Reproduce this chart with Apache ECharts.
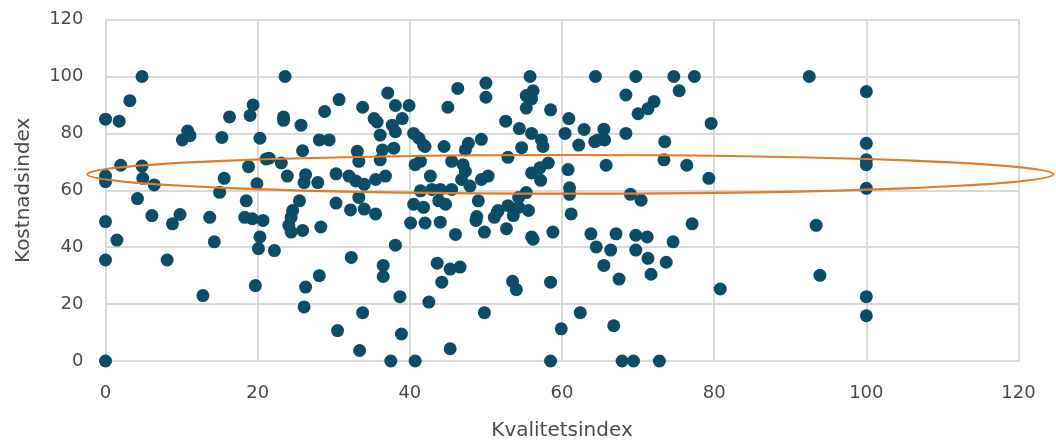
<!DOCTYPE html>
<html>
<head>
<meta charset="utf-8">
<script src="https://cdn.jsdelivr.net/npm/echarts@6/dist/echarts.min.js"></script>
<style>
html,body{margin:0;padding:0;background:#fff;}
#chart{width:1056px;height:446px;}
</style>
</head>
<body>
<div id="chart"></div>
<script>
// Axis ticks
const xTicks = [0, 20, 40, 60, 80, 100, 120];
const yTicks = [0, 20, 40, 60, 80, 100, 120];

// Kvalitetsindex (x) values
const kvalitet = [
  0, 0, 0, 0, 0, 0,
  4.8, 3.2, 1.8, 10.8, 11.1, 10.1, 16.3, 15.3, 19.4, 19, 20.3, 2, 4.8, 4.9, 6.4, 4.2, 15, 15.6, 18.8, 21.1, 19.9, 18.5, 6.1, 9.8, 8.8, 13.7, 18.3, 19.3, 20.7, 1.5, 14.3, 20.3, 20.1, 8.1, 19.7, 12.8,
  23.6, 30.7, 37.1, 23.4, 23.4, 25.7, 28.8, 33.8, 35.3, 35.7, 38.1, 39.9, 39, 37.7, 38.1, 36.1, 28.1, 29.4, 40.5, 41.2, 41.8, 25.9, 33.1, 36.4, 37.9, 21.5, 23.1, 33.3, 36.1, 40.7, 23.9, 26.3, 26.1, 27.9, 30.3, 32, 32.9, 34, 35.5, 36.8, 41.4, 25.5, 30.3, 33.3, 32.2, 34, 35.5, 40.5, 41.8, 24.6,
  24.4, 24.1, 24.4, 25.9, 28.3, 22.2, 40.1, 42, 38.1, 32.3, 36.5, 36.5, 28.1, 26.3, 26.1, 33.8, 38.7, 42.5, 30.5, 38.9, 33.4, 37.5, 40.7,
  55.8, 46.3, 50, 50, 56.2, 55.3, 56, 55.3, 45, 58.5, 60.9, 52.6, 54.4, 56, 57.3, 60.4, 62.9, 64.3, 62.2, 57.5, 54.7, 42, 44.5, 47.7, 49.4, 47.3, 52.9, 41.4, 45.5, 47, 47.3, 42.7, 58.2, 57.1, 56, 57.2, 60.8, 46.8, 47.9, 50.3, 49.4, 42.9, 44, 45.5, 43.8, 44.7, 49, 61, 61, 55.3, 54.3, 51.6, 52.9, 54.3, 55.6, 61.2, 48.8,
  44, 46, 48.7, 49.8, 51.5, 51.1, 53.6, 52.7, 56, 56.2, 58.8, 63.8, 64.5, 43.6, 45.3, 46.6, 44.2, 53.5, 54, 58.5, 49.8, 62.4, 59.9, 45.3, 58.5,
  64.4, 69.7, 74.7, 77.4, 75.4, 68.4, 72.1, 71.3, 70, 79.6, 65.5, 64.7, 65.6, 68.4, 73.5, 65.8, 73.4, 76.4, 79.3, 69, 70.4,
  67.1, 69.7, 71.2, 74.6, 77.1, 66.4, 69.7, 71.3, 73.7, 65.5, 71.7, 67.5, 80.8, 66.8, 67.9, 69.4, 72.8,
  92.5, 100, 100, 100, 100, 100, 93.4, 93.9, 100, 100
];

// Kostnadsindex (y) values
const kostnad = [
  85, 65, 63, 49, 35.5, 0,
  100, 91.5, 84.3, 80.8, 79.2, 77.7, 85.8, 78.6, 90, 86.3, 78.3, 68.8, 68.5, 64.2, 61.9, 57.1, 59.3, 64.2, 68.3, 71, 62.3, 56.3, 51.1, 51.5, 48.2, 50.5, 50.5, 50, 49.4, 42.5, 41.9, 43.6, 39.5, 35.5, 26.5, 23,
  100, 91.9, 94.2, 85.8, 84.6, 82.9, 87.7, 89.2, 85.2, 84, 89.8, 89.8, 85.2, 82.9, 80.6, 79.4, 77.7, 77.7, 80, 78.3, 75.9, 73.9, 73.7, 74.2, 74.8, 71.3, 69.6, 70.2, 70.7, 69, 65, 65.5, 62.7, 62.7, 65.8, 65, 63.3, 62.1, 63.8, 65, 59.8, 56.3, 55.5, 57.5, 53.1, 53.4, 51.7, 55.1, 54, 52.9,
  50.5, 47.7, 45.3, 45.9, 47.1, 38.8, 48.5, 48.5, 40.7, 36.4, 33.6, 29.7, 30, 26, 19, 17, 22.6, 20.7, 10.7, 9.5, 3.7, 0, 0,
  100, 95.8, 97.7, 92.7, 95, 93.3, 92.1, 88.9, 89.2, 88.3, 85.2, 84.3, 81.7, 80, 77.7, 80, 81.4, 77.1, 75.9, 75.4, 75, 75.4, 75.4, 76.5, 77.9, 74.2, 71.6, 70.2, 70.2, 69, 66.7, 65, 69.6, 67.9, 66.1, 63.5, 67.3, 63.8, 61.5, 65, 63.8, 60.3, 60.3, 60.3, 56.3, 55.1, 56.3, 60.9, 58.6, 59.2, 57.5, 52.9, 54.6, 54, 52.9, 51.7, 50.8,
  48.8, 44.5, 49.4, 45.3, 52.3, 50.5, 51.1, 46.5, 43.6, 42.8, 45.3, 44.7, 40.1, 34.4, 32.3, 33, 27.7, 28, 25.1, 27.7, 17, 17, 11.3, 4.3, 0,
  100, 100, 100, 100, 95, 93.5, 91.2, 88.7, 86.9, 83.5, 81.5, 77.7, 77.7, 80, 77.1, 68.8, 70.7, 68.8, 64.2, 58.6, 56.5,
  44.7, 44.2, 43.6, 41.9, 48.2, 39, 39, 36.1, 34.7, 33.6, 30.5, 28.8, 25.3, 12.4, 0, 0, 0,
  100, 94.7, 76.5, 70.7, 69, 60.7, 47.7, 30.1, 22.6, 15.9
];

// Highlight ellipse annotation (centre and radii in axis units)
const ellipseCenter = [61.1, 65.6];
const ellipseRadii = [63.5, 6.8];

const points = kvalitet.map((x, i) => [x, kostnad[i]]);

const chart = echarts.init(document.getElementById('chart'), null, {renderer: 'canvas'});
const labelColor = '#4a4a4a';
const gridColor = '#d9d9d9';

chart.setOption({
  animation: false,
  backgroundColor: '#ffffff',
  grid: {left: 105.5, right: 37.5, top: 19.6, bottom: 80.2, containLabel: false},
  xAxis: {
    type: 'value',
    min: xTicks[0], max: xTicks[xTicks.length - 1], interval: xTicks[1] - xTicks[0],
    name: 'Kvalitetsindex', nameLocation: 'middle', nameGap: 60,
    nameTextStyle: {fontFamily: 'DejaVu Sans', fontSize: 20, color: labelColor},
    axisLine: {show: true, lineStyle: {color: gridColor, width: 2}},
    axisTick: {show: false},
    axisLabel: {fontFamily: 'DejaVu Sans', fontSize: 18, color: labelColor, margin: 23},
    splitLine: {show: true, lineStyle: {color: gridColor, width: 2}}
  },
  yAxis: {
    type: 'value',
    min: yTicks[0], max: yTicks[yTicks.length - 1], interval: yTicks[1] - yTicks[0],
    name: 'Kostnadsindex', nameLocation: 'middle', nameGap: 72, nameRotate: 90,
    nameTextStyle: {fontFamily: 'DejaVu Sans', fontSize: 20, color: labelColor},
    axisLine: {show: true, lineStyle: {color: gridColor, width: 2}},
    axisTick: {show: false},
    axisLabel: {fontFamily: 'DejaVu Sans', fontSize: 18, color: labelColor, margin: 22},
    splitLine: {show: true, lineStyle: {color: gridColor, width: 2}}
  },
  series: [
    {
      type: 'scatter',
      data: points,
      symbol: 'circle',
      symbolSize: 13,
      clip: false,
      itemStyle: {color: '#0b4d66', opacity: 1},
      z: 2
    },
    {
      type: 'custom',
      clip: false,
      z: 5,
      silent: true,
      data: [ellipseCenter.concat(ellipseRadii)],
      renderItem: function (params, api) {
        const c = api.coord([api.value(0), api.value(1)]);
        const s = api.size([api.value(2), api.value(3)]);
        return {
          type: 'ellipse',
          shape: {cx: c[0], cy: c[1], rx: s[0], ry: s[1]},
          style: {fill: 'none', stroke: '#e07c2a', lineWidth: 2.2}
        };
      }
    }
  ]
});
</script>
</body>
</html>
